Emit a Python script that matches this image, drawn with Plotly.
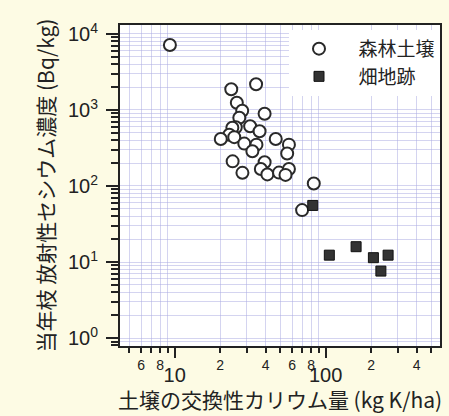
import plotly.graph_objects as go

# 森林土壌 (forest soil): exchangeable K (kg K/ha) vs Cs concentration (Bq/kg)
forest_k = [9.3, 23.7, 34.6, 25.8, 28.0, 39.4, 26.8, 25.4, 24.1, 31.6, 36.5, 23.0,
            20.2, 24.8, 28.9, 34.8, 32.7, 46.7, 57.1, 55.6, 24.2, 28.1, 39.4, 37.2,
            41.1, 49.1, 57.1, 54.2, 83.4, 69.8]
forest_cs = [7170, 1870, 2180, 1245, 978, 893, 791, 594, 585, 612, 526, 473,
             416, 439, 361, 350, 286, 416, 350, 267, 211, 149, 205, 167,
             142, 150, 167, 140, 108, 48.2]

# 畑地跡 (former cropland)
field_k = [82.1, 105.7, 159, 207, 259, 232]
field_cs = [55.5, 12.3, 15.9, 11.4, 12.3, 7.6]

y_major = [1, 10, 100, 1000, 10000]
y_major_text = ["10<sup>0</sup>", "10<sup>1</sup>", "10<sup>2</sup>", "10<sup>3</sup>", "10<sup>4</sup>"]
x_major = [10, 100]
x_major_text = ["10", "100"]
x_labeled = [6, 8, 20, 40, 60, 80, 200, 400]
x_labeled_text = ["6", "8", "2", "4", "6", "8", "2", "4"]
x_minor = [5, 7, 9, 30, 50, 70, 90, 300, 500]
y_minor = [m * 10 ** e for e in range(-1, 4) for m in range(2, 10)]

x_range = [0.638, 2.757]
grid_col = "rgba(170,170,225,0.5)"
font_fam = "Liberation Sans, Arial, Noto Sans CJK JP"
ink = "#222222"
sp = "\u2002"

fig = go.Figure()
# invisible carrier so the major-tick overlay axis (x2) is drawn
fig.add_trace(go.Scatter(
    x=field_k, y=field_cs, xaxis="x2", yaxis="y", mode="markers",
    marker=dict(opacity=0), showlegend=False, hoverinfo="skip",
))
fig.add_trace(go.Scatter(
    x=forest_k, y=forest_cs, mode="markers", name=sp + "森林土壌",
    marker=dict(symbol="circle", size=12, color="white",
                line=dict(color="#2a2a2a", width=2)),
))
fig.add_trace(go.Scatter(
    x=field_k, y=field_cs, mode="markers", name=sp + "畑地跡",
    marker=dict(symbol="square", size=10, color="#333333",
                line=dict(color="#111111", width=1)),
))

fig.update_layout(
    width=449, height=416,
    margin=dict(l=120, r=7, t=25, b=69),
    paper_bgcolor="#fdfbe4",
    plot_bgcolor="white",
    font=dict(family=font_fam, color=ink),
    showlegend=True,
    legend=dict(x=1, y=0.985, xanchor="right", yanchor="top",
                bgcolor="white", borderwidth=0,
                font=dict(size=19, family="Noto Sans CJK JP", color=ink),
                itemwidth=50),
    xaxis=dict(
        type="log", range=x_range,
        tickmode="array", tickvals=x_labeled, ticktext=x_labeled_text, tickangle=0,
        tickfont=dict(size=14, color=ink),
        ticks="outside", ticklen=5, tickwidth=1.5, tickcolor=ink,
        showline=True, linecolor=ink, linewidth=2, mirror=True,
        showgrid=True, gridcolor=grid_col, gridwidth=1,
        minor=dict(tickmode="array", tickvals=x_minor, ticks="outside", ticklen=5,
                   tickwidth=1.5, tickcolor=ink, showgrid=True, gridcolor=grid_col),
        zeroline=False,
        title=dict(text="土壌の交換性カリウム量 (kg K/ha)",
                   font=dict(size=21, family="Noto Sans CJK JP", color=ink),
                   standoff=22),
    ),
    xaxis2=dict(type="log", range=x_range, overlaying="x", anchor="y", side="bottom",
                tickmode="array", tickvals=x_major, ticktext=x_major_text, tickangle=0,
                tickfont=dict(size=20, color=ink), ticklabelstandoff=0,
                ticks="outside", ticklen=11, tickwidth=1.5, tickcolor=ink,
                showgrid=False, showline=False, zeroline=False),
)

fig.update_yaxes(
    type="log", range=[-0.105, 4.118],
    tickmode="array", tickvals=y_major, ticktext=y_major_text,
    tickfont=dict(size=20, color=ink), ticklabelstandoff=4,
    ticks="outside", ticklen=12, tickwidth=1.5, tickcolor=ink,
    showline=True, linecolor=ink, linewidth=2, mirror=True,
    showgrid=True, gridcolor=grid_col, gridwidth=1,
    minor=dict(tickmode="array", tickvals=y_minor, ticks="outside", ticklen=7,
               tickwidth=1.5, tickcolor=ink, showgrid=True, gridcolor=grid_col),
    zeroline=False,
    title=dict(text="当年枝 放射性セシウム濃度 (Bq/kg)",
               font=dict(size=21, family="Noto Sans CJK JP", color=ink),
               standoff=8),
)

fig.write_html("out.html", config={"displayModeBar": False},
               post_script="document.body.style.margin='0';document.body.style.background='#fdfbe4';")
